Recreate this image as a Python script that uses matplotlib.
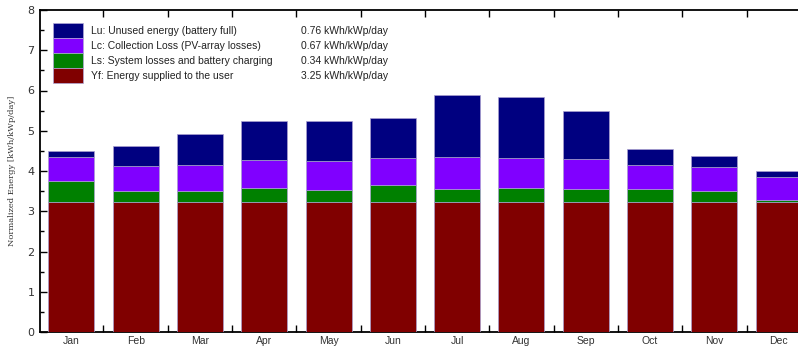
import matplotlib
matplotlib.use('Agg')
import matplotlib.pyplot as plt
from matplotlib.patches import Rectangle
from matplotlib.ticker import MultipleLocator, FixedLocator
import numpy as np

months = ["Jan", "Feb", "Mar", "Apr", "May", "Jun", "Jul", "Aug", "Sep", "Oct", "Nov", "Dec"]
yf = [3.22, 3.22, 3.22, 3.22, 3.22, 3.22, 3.22, 3.22, 3.22, 3.22, 3.22, 3.22]
ls = [0.54, 0.29, 0.29, 0.37, 0.32, 0.44, 0.33, 0.37, 0.33, 0.33, 0.29, 0.07]
lc = [0.60, 0.62, 0.65, 0.69, 0.72, 0.66, 0.81, 0.74, 0.76, 0.61, 0.60, 0.55]
lu = [0.14, 0.50, 0.75, 0.97, 0.99, 0.99, 1.52, 1.51, 1.19, 0.39, 0.27, 0.17]

legend_labels = ["Lu: Unused energy (battery full)",
                 "Lc: Collection Loss (PV-array losses)",
                 "Ls: System losses and battery charging",
                 "Yf: Energy supplied to the user"]
legend_values = ["0.76 kWh/kWp/day", "0.67 kWh/kWp/day", "0.34 kWh/kWp/day", "3.25 kWh/kWp/day"]

c_yf, c_ls, c_lc, c_lu = "#800000", "#008000", "#8000ff", "#000080"

fig = plt.figure(figsize=(7.98, 3.49), dpi=100)
ax = fig.add_axes([40 / 798, 17 / 349, 758 / 798, 322 / 349])

x = np.arange(len(months))
w = 0.715
edge = dict(edgecolor="#a9a0d0", linewidth=0.5)
bottom = np.zeros(len(months))
for vals, col in [(yf, c_yf), (ls, c_ls), (lc, c_lc), (lu, c_lu)]:
    ax.bar(x, vals, w, bottom=bottom, color=col, zorder=3, **edge)
    bottom += np.array(vals)

ax.set_xlim(-0.487, 11.30)
ax.set_ylim(0, 8)

ax.yaxis.set_major_locator(MultipleLocator(1))
ax.yaxis.set_minor_locator(MultipleLocator(0.5))
ax.tick_params(axis="y", which="major", direction="in", length=5, width=1,
               labelsize=8, labelcolor="#333333", pad=4)
ax.tick_params(axis="y", which="minor", direction="in", length=3, width=1)

ax.set_xticks(x)
ax.set_xticklabels(months, fontsize=7.5, color="#333333", family="Liberation Sans")
ax.xaxis.set_minor_locator(FixedLocator(x[:-1] + 0.5))
ax.tick_params(axis="x", which="major", length=0, pad=3)
ax.tick_params(axis="x", which="minor", direction="in", length=5, width=1,
               top=True, bottom=True)

ax.spines["right"].set_visible(False)
for s in ["left", "bottom", "top"]:
    ax.spines[s].set_linewidth(1.3)
ax.spines["bottom"].set_zorder(1)

ax.set_ylabel("Normalized Energy [kWh/kWp/day]", family="DejaVu Serif",
              fontsize=6, color="#333333", labelpad=8)

# legend block drawn in pixel coords
def px(xp, yp):
    return xp / 798, 1 - yp / 349

box_colors = [c_lu, c_lc, c_ls, c_yf]
for i, (col, lab, val) in enumerate(zip(box_colors, legend_labels, legend_values)):
    top = 23 + i * 15.1
    x0, y0 = px(53, top + 15.1)
    fig.patches.append(Rectangle((x0, y0), 30 / 798, 15.1 / 349, transform=fig.transFigure,
                                 facecolor=col, edgecolor="#b0a8d8", linewidth=0.5, zorder=5))
    tx, ty = px(91, top + 8)
    fig.text(tx, ty, lab, fontsize=7.5, family="Liberation Sans", color="#222222",
             va="center", ha="left")
    vx, vy = px(388, top + 8)
    fig.text(vx, vy, val, fontsize=7.5, family="Liberation Sans", color="#222222",
             va="center", ha="right")

plt.savefig("out.png", dpi=100)
